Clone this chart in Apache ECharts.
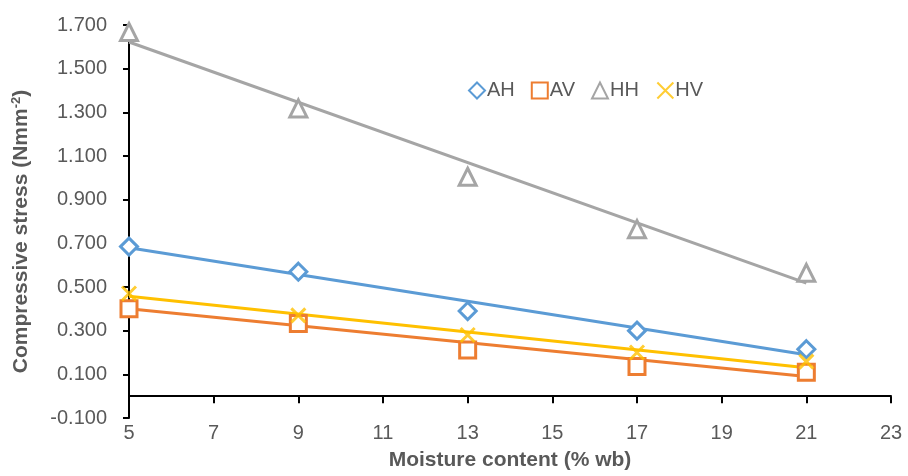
<!DOCTYPE html>
<html><head><meta charset="utf-8">
<script src="https://cdn.jsdelivr.net/npm/echarts@6/dist/echarts.min.js"></script>
<style>html,body{margin:0;padding:0;background:#fff}#c{width:908px;height:476px}</style>
</head><body><div id="c"></div>
<script>
const moisture = [5, 9, 13, 17, 21];
const AH = [0.685, 0.570, 0.390, 0.300, 0.215];
const AV = [0.400, 0.333, 0.212, 0.136, 0.110];
const HH = [1.668, 1.318, 1.005, 0.765, 0.565];
const HV = [0.470, 0.370, 0.280, 0.200, 0.158];
// trend lines (read at x = 5 and x = 21)
const trendX = [5, 21];
const trendAH = [0.680, 0.190];
const trendAV = [0.400, 0.090];
const trendHH = [1.622, 0.518];
const trendHV = [0.458, 0.130];
const xTicks = {min: 5, max: 23, step: 2};
const yTicks = {min: -0.1, max: 1.7, step: 0.2};

const colors = {AH: '#5B9BD5', AV: '#ED7D31', HH: '#A5A5A5', HV: '#FFC000'};
const pairs = (xs, ys) => xs.map((x, i) => [x, ys[i]]);
const font = 'Liberation Sans';

function scatter(name, data, symbol, size) {
  return {
    name, type: 'scatter', data: pairs(moisture, data), symbol, symbolSize: size, z: 5,
    itemStyle: {color: '#fff', borderColor: colors[name], borderWidth: 3, opacity: 1}
  };
}
function trend(name, data) {
  return {
    name: name + ' trend', type: 'line', data: pairs(trendX, data), symbol: 'none', z: 3,
    lineStyle: {color: colors[name], width: 3}, silent: true
  };
}
const crossPath = 'path://M0,0L10,10M10,0L0,10';

const chart = echarts.init(document.getElementById('c'), null, {renderer: 'canvas'});
chart.setOption({
  animation: false,
  grid: {left: 129, right: 17, top: 25, bottom: 56, containLabel: false},
  legend: {
    data: ['AH', 'AV', 'HH', 'HV'], left: 463, top: 75, itemGap: 16, itemWidth: 16, itemHeight: 16,
    textStyle: {fontFamily: font, fontSize: 20, color: '#595959', padding: [0, 0, 0, -3]}
  },
  xAxis: [{
    type: 'value', min: xTicks.min, max: xTicks.max, interval: xTicks.step,
    axisLine: {show: false}, axisTick: {show: false}, splitLine: {show: false},
    axisLabel: {fontFamily: font, fontSize: 20, color: '#595959', margin: 5},
    name: 'Moisture content (% wb)', nameLocation: 'middle', nameGap: 32,
    nameTextStyle: {fontFamily: font, fontSize: 21, fontWeight: 'bold', color: '#595959'}
  }, {
    type: 'value', min: xTicks.min, max: xTicks.max, interval: xTicks.step, position: 'bottom',
    axisLine: {show: true, onZero: true, onZeroAxisIndex: 0, lineStyle: {color: '#000', width: 2}},
    axisTick: {show: true, inside: false, length: 7, lineStyle: {color: '#000', width: 2}},
    axisLabel: {show: false}, splitLine: {show: false}
  }],
  yAxis: {
    type: 'value', min: yTicks.min, max: yTicks.max, interval: yTicks.step,
    axisLine: {show: true, onZero: false, lineStyle: {color: '#000', width: 2}},
    axisTick: {show: true, length: 6, lineStyle: {color: '#000', width: 2}},
    splitLine: {show: false},
    axisLabel: {fontFamily: font, fontSize: 20, color: '#595959', margin: 22,
      formatter: v => v.toFixed(3)},
    name: '{a|Compressive stress (Nmm}{s|-2}{a|)}', nameLocation: 'middle', nameGap: 96, nameRotate: 90,
    nameTextStyle: {padding: [0, 20, 0, 0], rich: {
      a: {fontFamily: font, fontSize: 21, fontWeight: 'bold', color: '#595959'},
      s: {fontFamily: font, fontSize: 13, fontWeight: 'bold', color: '#595959', verticalAlign: 'top', padding: [0, 0, 10, 0]}
    }}
  },
  series: [
    trend('HH', trendHH), trend('AH', trendAH), trend('HV', trendHV), trend('AV', trendAV),
    scatter('AH', AH, 'diamond', 17),
    scatter('AV', AV, 'rect', 16),
    scatter('HH', HH, 'triangle', 17),
    Object.assign(scatter('HV', HV, crossPath, 14), {itemStyle: {color: 'none', borderColor: colors.HV, borderWidth: 3}})
  ]
});
</script></body></html>
